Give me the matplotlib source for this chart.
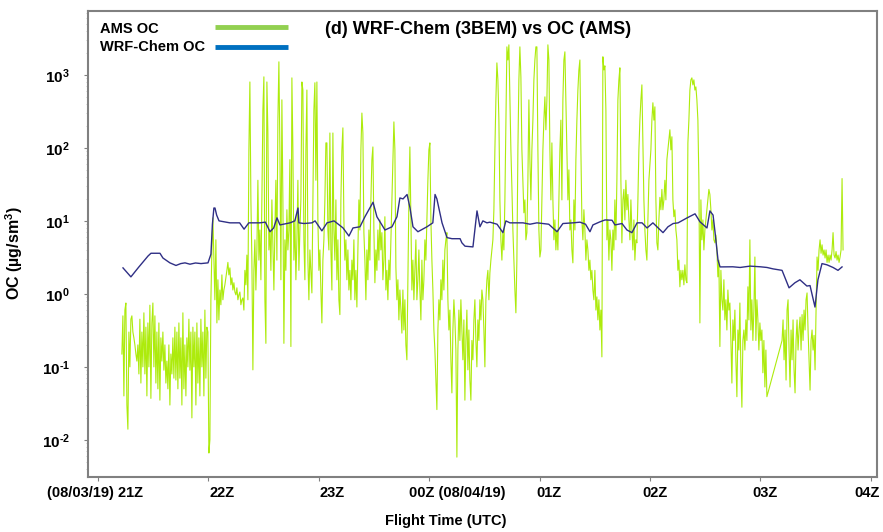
import numpy as np
import matplotlib
matplotlib.use("Agg")
import matplotlib.pyplot as plt
from matplotlib.ticker import FixedLocator, LogLocator, NullFormatter

plt.rcParams['font.family'] = ['Liberation Sans', 'DejaVu Sans']
plt.rcParams['mathtext.fontset'] = 'custom'
plt.rcParams['mathtext.rm'] = 'Liberation Sans:bold'
plt.rcParams['mathtext.it'] = 'Liberation Sans:bold:italic'
plt.rcParams['mathtext.bf'] = 'Liberation Sans:bold'

# ---- data: minutes after 21Z on 08/03/19, OC in ug/sm3 ----
# AMS samples every ~32.6 s, two continuous legs
ams_dt_min = 0.5435
ams_leg1_start_min = 13.0
ams_leg2_start_min = 371.8

ams_oc_leg1 = [
    0.15, 0.5, 0.04, 0.6, 0.75, 0.03, 0.014, 0.3, 0.1, 0.45,
    0.5, 0.3, 0.25, 0.2, 0.15, 0.12, 0.2, 0.08, 0.45, 0.06,
    0.3, 0.1, 0.55, 0.08, 0.35, 0.04, 0.4, 0.1, 0.7, 0.037,
    0.4, 0.75, 0.1, 0.5, 0.06, 0.3, 0.05, 0.4, 0.035, 0.25,
    0.12, 0.3, 0.09, 0.2, 0.06, 0.12, 0.05, 0.2, 0.03, 0.15,
    0.08, 0.25, 0.07, 0.35, 0.066, 0.3, 0.05, 0.4, 0.07, 0.25,
    0.03, 0.55, 0.05, 0.2, 0.04, 0.25, 0.1, 0.45, 0.09, 0.3,
    0.02, 0.35, 0.1, 0.3, 0.03, 0.4, 0.06, 0.25, 0.04, 0.45,
    0.1, 0.3, 0.04, 0.6, 0.07, 0.35, 0.3, 0.0066,
    0.01, 0.83, 4.0, 11, 2.9, 0.83, 5.5, 0.40, 1.56, 0.44,
    1.13, 0.71, 1.82, 0.83, 1.13, 1.33, 1.66, 2.1, 2.7, 1.82,
    2.27, 1.33, 1.66, 1.13, 1.42, 1.06, 0.97, 1.21, 0.83, 0.97,
    1.06, 0.71, 0.83, 0.88, 0.60, 2.1, 1.33, 3.4, 0.83, 94,
    800, 19.4, 2.9, 0.091, 2.1, 5.5, 1.13, 4.0, 36, 2.9,
    7.5, 1.56,
    19.4, 330, 940, 0.83, 0.21, 800, 160, 4.0, 7.5, 2.1,
    19.4, 4.7, 1.13, 7.5, 36, 2.9, 240, 1510, 94, 1.56,
    455, 19.4, 0.21, 5.5, 2.1, 14.2, 4.0, 7.5, 69, 0.19,
    910, 94, 2.9, 10.3, 1.56, 5.5, 36, 2.1, 7.5, 19.4,
    800, 620, 5.5, 1.56, 94, 620, 2.9, 0.83, 4.0, 2.1,
    1.03, 19.4, 330, 780, 36, 800, 10.3, 2.1, 4.0, 1.13,
    0.40, 2.9, 5.5, 19.4, 117, 117, 7.5, 4.0, 160,
    4.0, 1.13, 160, 7.5, 2.9, 19.4, 1.56, 5.5, 0.83, 0.52,
    19.4, 94, 188, 10.3, 2.9, 5.5, 1.56, 4.0, 1.13, 2.1,
    0.83, 2.9, 1.56, 5.5, 0.83, 2.1, 0.66, 4.0, 19.4, 7.5,
    94, 300, 160, 6.9, 2.9, 0.83, 4.0, 1.56, 7.5, 2.9,
    19.4, 69, 103, 7.5, 1.42, 4.0, 2.1, 7.5, 2.9, 10.3,
    4.0, 6.9, 1.56, 2.9, 11.4, 1.13, 2.1, 0.83, 2.9, 1.56,
    5.5, 19.4, 69, 227, 94, 2.3, 0.83, 1.56, 0.44, 1.13,
    0.60, 0.29, 1.13, 0.32, 0.83, 0.20, 0.125, 1.56, 19.4, 103,
    10.3, 1.13, 2.9, 0.83, 2.1, 5.5, 0.83, 1.56, 4.0, 1.13,
    0.44, 2.9, 0.83, 1.56, 5.5, 2.9, 10.3, 36, 94, 117,
    10.3, 2.9, 1.13, 0.32, 0.17, 0.066, 0.026, 0.32, 0.83, 0.44,
    1.56, 0.83, 2.9, 1.13, 4.0, 5.5, 6.9, 0.83, 0.32, 0.60,
    0.125, 0.044, 0.32, 0.83, 0.44, 0.17, 0.0058, 0.17, 0.60, 0.23,
    0.83, 0.32, 0.125, 0.44, 0.035, 0.23, 0.60, 0.091, 0.32, 0.066,
    0.035, 0.23, 0.125, 0.44, 0.83, 0.23, 0.10, 0.44, 0.23, 0.83,
    0.44, 1.13, 0.83, 0.32, 0.10, 0.83, 1.56, 2.1, 0.83, 1.94,
    2.9, 4.0, 5.5, 14.2, 94, 455, 1460, 855, 240, 19.4,
    5.5, 2.9, 6.9, 4.0, 19.4, 240, 2420, 1600, 2580, 455,
    94, 29, 7.5, 2.9, 1.13, 0.55, 2.9, 94, 855, 2420,
    940, 94, 36, 12.9, 19.4, 5.5, 6.9, 36, 455, 69,
    19.4, 94, 240, 855, 1600, 2420, 2420, 94, 7.5, 3.2,
    4.0, 19.4, 94, 240, 500, 177, 455, 2580, 1600, 94,
    19.4, 117, 19.4, 5.5, 10.3, 4.0, 7.5, 4.0, 19.4, 94,
    240, 19.4, 455, 1600, 2070, 455, 94, 19.4, 50, 7.5,
    10.3, 4.0, 2.66, 19.4, 7.5, 69, 240, 620, 1170, 1600,
    94, 10.3, 5.5, 14.2, 7.5, 2.9, 5.5, 4.0, 2.1, 2.9,
    1.56, 2.1, 1.13, 0.83, 2.1, 0.60, 0.91, 0.44, 0.83, 0.32,
    0.60, 0.137, 1770, 1170, 1330, 330, 5.5, 10.3, 2.9, 7.5,
    5.5, 2.1, 7.5, 4.0, 19.4, 5.5, 36, 455, 855, 1250,
    36, 5.0, 19.4, 27, 10.3, 36, 14.2, 23, 10.3, 5.5,
    19.4, 7.5, 4.0, 10.3, 2.9, 5.5, 5.0, 19.4, 94, 240,
    455, 730, 129, 19.4, 7.5, 4.0, 2.9, 10.3, 36, 58,
    94, 240, 415, 240, 365, 19.4, 5.0, 4.0, 10.3, 21,
    14.2, 27, 14.2, 19.4, 36, 19.4, 69, 94, 129, 177,
    94, 142, 19.4, 11.4, 14.2, 7.5, 5.5, 2.1, 2.9, 1.25,
    2.1, 1.56, 2.1, 1.33, 2.5, 1.56, 1.42, 117, 240, 620,
    855, 910, 730, 855, 620, 685, 455, 240, 36, 0.40,
    19.4, 5.5, 10.3, 4.0, 7.5, 10.3, 14.2, 19.4, 27, 23,
    14.2, 7.5, 10.3, 5.5, 5.0, 6.4, 4.0, 1.71, 2.9, 0.19,
    2.1, 0.83, 0.60, 1.56, 0.44, 0.83, 0.32, 1.13, 0.60, 0.75,
    0.23, 0.060, 0.44, 0.23, 0.60, 0.125, 0.039, 0.32, 0.17, 0.75,
    0.091, 0.028, 0.23, 0.32, 0.17, 0.44, 0.23, 1.25, 0.44, 5.5,
    0.32, 0.83, 0.23, 0.60, 3.2, 0.23, 0.83, 0.44, 0.17, 0.40,
    0.23, 0.32, 0.083, 0.23, 0.053, 0.17, 0.039,
]

ams_oc_leg2 = [
    0.23, 0.44, 0.125, 0.32, 0.066, 0.60, 0.83, 0.17, 0.053, 0.32,
    0.125, 0.44, 0.091, 0.044, 0.23, 0.44, 0.17, 0.32, 0.48, 0.17,
    0.52, 0.23, 0.60, 0.32, 0.83, 1.03, 0.32, 0.125, 0.048, 0.23,
    0.32, 0.17, 0.27, 0.091, 0.60, 3.2, 2.1, 4.0, 5.5, 3.6,
    4.7, 3.4, 4.0, 3.1, 4.0, 2.7, 3.4, 2.7, 3.4, 2.9,
    4.0, 6.9, 3.4, 3.1, 3.8, 2.9, 3.4, 2.7, 3.2, 4.0,
    38, 4.0,
]

wrf_t_min = [
    13.6, 17.9, 22.0, 27.2, 28.8, 33.7, 35.3, 39.1, 42.4, 45.0,
    47.3, 50.0, 53.0, 56.0, 59.8, 61.4, 62.2, 63.0, 63.6, 64.5,
    65.8, 71.7, 77.0, 79.4, 82.0, 88.0, 91.0, 93.5, 95.5, 97.3,
    98.9, 104.4, 107.0, 108.7, 109.2, 112.0, 116.3, 118.0, 121.7, 124.5,
    128.3, 133.2, 136.4, 138.6, 142.4, 145.1, 149.5, 151.6, 156.0, 159.8,
    162.5, 164.1, 165.8, 168.0, 169.6, 171.2, 173.9, 178.8, 182.0, 183.2,
    184.2, 187.0, 189.7, 192.4, 196.8, 197.8, 199.5, 203.8, 205.4, 206.0,
    207.6, 209.2, 211.4, 213.0, 216.9, 220.1, 221.7, 223.9, 231.0, 234.8,
    238.6, 245.0, 249.5, 252.7, 258.2, 262.0, 265.0, 267.4, 269.0, 272.8,
    275.6, 279.4, 281.0, 284.8, 287.5, 290.2, 293.0, 295.7, 298.4, 301.6,
    307.1, 309.8, 312.6, 315.3, 320.2, 324.5, 327.2, 331.0, 332.6, 334.3,
    335.4, 337.0, 338.1, 345.0, 349.0, 354.4, 360.0, 363.6, 366.9, 371.8,
    374.5, 375.6, 378.8, 381.5, 385.3, 387.0, 389.7, 391.3, 393.5, 396.2,
    399.5, 402.2, 404.4,
]
wrf_oc = [
    2.27, 1.71, 2.3, 3.3, 3.6, 3.6, 3.1, 2.66, 2.45, 2.6,
    2.66, 2.55, 2.65, 2.6, 2.66, 3.5, 9, 15, 15, 12,
    10, 9.4, 9.4, 7.7, 9.4, 9.4, 9.6, 7.1, 8.0, 11,
    8.8, 9.4, 10, 15, 9.4, 9.2, 9.4, 10, 7.3, 9.4,
    10, 8.0, 6.2, 8.0, 8.3, 11.4, 18, 11.4, 7.5, 8.3,
    11.4, 20.6, 20, 23, 15, 8.3, 7.1, 8.3, 9.4, 23,
    20, 9.4, 5.9, 5.7, 5.7, 5.0, 4.5, 4.4, 10, 13.7,
    8.3, 10, 9.4, 9.6, 9.0, 6.9, 10, 9.4, 9.4, 9.0,
    9.4, 9.0, 7.1, 9.2, 9.4, 9.6, 9.0, 7.1, 8.8, 9.7,
    10.3, 10.2, 8.8, 9.2, 7.5, 6.9, 9.4, 9.4, 8.0, 9.4,
    6.9, 8.3, 9.2, 9.4, 11, 12.5, 9.7, 8.0, 13.7, 12,
    6.9, 2.9, 2.34, 2.35, 2.3, 2.4, 2.35, 2.3, 2.2, 2.1,
    1.42, 1.21, 1.42, 1.56, 1.28, 1.3, 0.66, 1.56, 2.6, 2.5,
    2.3, 2.1, 2.34,
]

hour_ticks_min = [0, 60, 120, 180, 240, 300, 360, 420]
hour_labels = ["(08/03/19) 21Z", "22Z", "23Z", "00Z (08/04/19)",
               "01Z", "02Z", "03Z", "04Z"]
decade_ticks = [1e-2, 1e-1, 1e0, 1e1, 1e2, 1e3]
decade_labels = [r"$10^{\text{-}2}$", r"$10^{\text{-}1}$", r"$10^{0}$",
                 r"$10^{1}$", r"$10^{2}$", r"$10^{3}$"]

# ---- layout ----
label_x_min = [-1.6, 67.4, 127.2, 195.0, 245.0, 303.0, 362.5, 418.0]
ams_color = "#ADEB0C"
wrf_color = "#2F2F85"
spine_color = "#808080"

ams_t1 = ams_leg1_start_min + ams_dt_min * np.arange(len(ams_oc_leg1))
ams_t2 = ams_leg2_start_min + ams_dt_min * np.arange(len(ams_oc_leg2))
ams_t = np.concatenate([ams_t1, ams_t2])
ams_oc = np.concatenate([ams_oc_leg1, ams_oc_leg2])

fig = plt.figure(figsize=(8.83, 5.32), dpi=100)
ax = fig.add_axes([0.0997, 0.1034, 0.8935, 0.8759])

ax.plot(ams_t, ams_oc, color=ams_color, linewidth=0.8, zorder=2)
ax.plot(wrf_t_min, wrf_oc, color=wrf_color, linewidth=1.0, zorder=3)

ax.set_yscale("log")
ax.set_ylim(0.0031, 7500)
ax.set_xlim(-5.4, 423.4)

ax.yaxis.set_major_locator(FixedLocator(decade_ticks))
ax.set_yticklabels(decade_labels, fontsize=11)
ax.yaxis.set_minor_locator(LogLocator(base=10, subs=np.arange(2, 10), numticks=20))
ax.yaxis.set_minor_formatter(NullFormatter())
ax.tick_params(axis="y", which="major", length=3, width=0.8, color=spine_color, pad=10)
ax.tick_params(axis="y", which="minor", length=1.5, width=0.5, color="#b0b0b0")

ax.set_xticks(hour_ticks_min)
ax.set_xticklabels([])
ax.tick_params(axis="x", length=3, width=0.8, color=spine_color)
for xm, lab in zip(label_x_min, hour_labels):
    ax.text(xm, -0.034, lab, transform=ax.get_xaxis_transform(), ha="center", va="center",
            fontsize=10.5, fontweight="bold")
ax.text(0.454, -0.094, "Flight Time (UTC)", transform=ax.transAxes, ha="center", va="center",
        fontsize=10.5, fontweight="bold")

ax.set_ylabel(r"OC (µg/sm$^{3}$)", fontsize=11.5, fontweight="bold")
ax.yaxis.set_label_coords(-0.08, 0.48)

for sp in ax.spines.values():
    sp.set_color(spine_color)
    sp.set_linewidth(1.5)

# legend drawn by hand: label on the left, swatch on the right
ax.text(0.015, 0.962, "AMS OC", transform=ax.transAxes, ha="left", va="center",
        fontsize=10.5, fontweight="bold")
ax.text(0.015, 0.922, "WRF-Chem OC", transform=ax.transAxes, ha="left", va="center",
        fontsize=10.5, fontweight="bold")
ax.plot([0.161, 0.2535], [0.966, 0.966], color="#92D050", linewidth=3.5,
        transform=ax.transAxes, solid_capstyle="butt")
ax.plot([0.161, 0.2535], [0.923, 0.923], color="#0070C0", linewidth=3.5,
        transform=ax.transAxes, solid_capstyle="butt")

ax.text(0.494, 0.96, "(d) WRF-Chem (3BEM) vs OC (AMS)", transform=ax.transAxes,
        ha="center", va="center", fontsize=13, fontweight="bold")

fig.savefig("out.png", dpi=100)
